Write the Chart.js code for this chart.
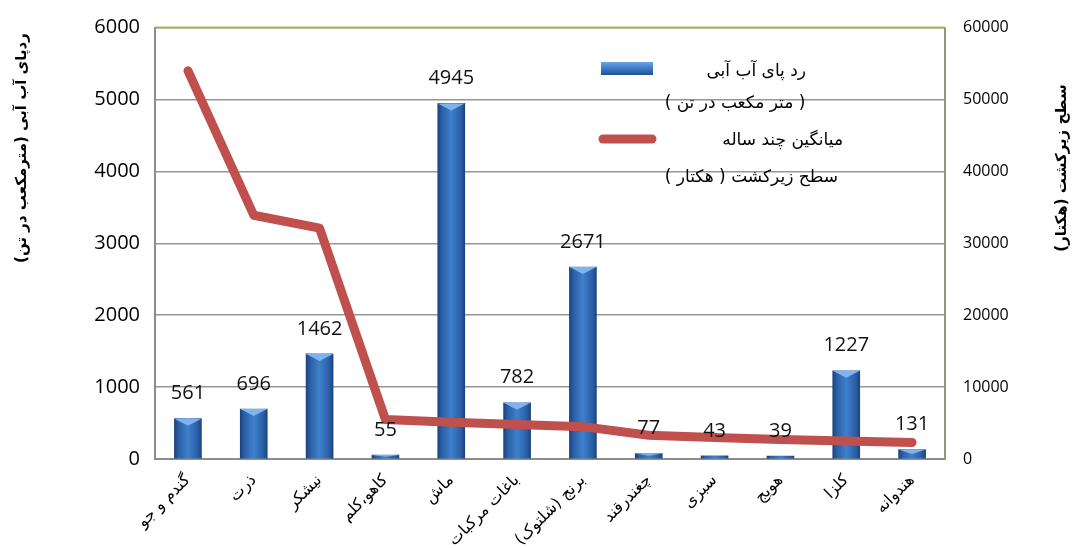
<!DOCTYPE html>
<html>
<head>
<meta charset="utf-8">
<script src="https://cdn.jsdelivr.net/npm/chart.js"></script>
<style>
  body { margin: 0; background: #fff; }
  #wrap { width: 1087px; height: 548px; }
</style>
</head>
<body>
<div id="wrap"><canvas id="chart" dir="rtl"></canvas></div>
<script>
// data
var crops = ['گندم و جو', 'ذرت', 'نیشکر', 'کاهو،کلم', 'ماش', 'باغات مرکبات', 'برنج (شلتوک)', 'چغندرقند', 'سبزی', 'هویج', 'کلزا', 'هندوانه'];
var waterFootprint = [561, 696, 1462, 55, 4945, 782, 2671, 77, 43, 39, 1227, 131];
var areaHa = [54000, 33900, 32100, 5500, 5100, 4800, 4500, 3300, 3000, 2700, 2500, 2300];
var leftTicks = [0, 1000, 2000, 3000, 4000, 5000, 6000];
var rightTicks = [0, 10000, 20000, 30000, 40000, 50000, 60000];
var barLabel = ['رد پای آب آبی', '( متر مکعب در تن )'];
var lineLabel = ['میانگین چند ساله', 'سطح زیرکشت ( هکتار )'];
var leftTitle = 'ردپای آب آبی (مترمکعب در تن)';
var rightTitle = 'سطح زیرکشت (هکتار)';

var numFont = "'Open Sans', 'DejaVu Sans', sans-serif";
var faFont = "'DejaVu Sans', sans-serif";
var barW = 27;

function barGradient(ctx, x, w) {
  let g = ctx.createLinearGradient(x - w / 2, 0, x + w / 2, 0);
  g.addColorStop(0, '#1b447c');
  g.addColorStop(0.15, '#2a5fa6');
  g.addColorStop(0.5, '#3f80cc');
  g.addColorStop(0.85, '#2a5fa6');
  g.addColorStop(1, '#1b447c');
  return g;
}

// bevel on top of every bar
let bevelPlugin = {
  id: 'bevel',
  afterDatasetDraw(chart, args) {
    if (args.index != 0) return;
    let ctx = chart.ctx;
    chart.getDatasetMeta(0).data.forEach(function (bar) {
      let h = bar.base - bar.y;
      if (h < 3) return;
      let d = Math.min(7, h / 2);
      let l = bar.x - barW / 2, r = bar.x + barW / 2;
      ctx.save();
      ctx.fillStyle = '#7fb3ee';
      ctx.beginPath();
      ctx.moveTo(l, bar.y);
      ctx.lineTo(r, bar.y);
      ctx.lineTo(bar.x, bar.y + d);
      ctx.closePath();
      ctx.fill();
      ctx.restore();
    });
  }
};

let labelPlugin = {
  id: 'valueLabels',
  afterDatasetsDraw(chart) {
    let ctx = chart.ctx;
    ctx.save();
    ctx.font = '20px ' + numFont;
    ctx.fillStyle = '#111';
    ctx.textAlign = 'center';
    ctx.textBaseline = 'middle';
    ctx.direction = 'ltr';
    chart.getDatasetMeta(0).data.forEach(function (bar, i) {
      ctx.fillText(String(waterFootprint[i]), bar.x, bar.y - 25);
    });
    ctx.restore();
  }
};

let framePlugin = {
  id: 'frame',
  afterDraw(chart) {
    let a = chart.chartArea, ctx = chart.ctx;
    ctx.save();
    ctx.lineWidth = 2;
    ctx.strokeStyle = '#9bbb59';
    ctx.beginPath();
    ctx.moveTo(a.left, a.top);
    ctx.lineTo(a.right, a.top);
    ctx.stroke();
    ctx.strokeStyle = '#8f9a7c';
    ctx.beginPath();
    ctx.moveTo(a.right, a.top);
    ctx.lineTo(a.right, a.bottom);
    ctx.stroke();

    // axis titles, both read bottom to top
    ctx.direction = 'rtl';
    ctx.fillStyle = '#000';
    ctx.textAlign = 'center';
    ctx.textBaseline = 'middle';
    ctx.font = 'bold 15px ' + faFont;
    ctx.save();
    ctx.translate(22, 148);
    ctx.rotate(-Math.PI / 2);
    ctx.fillText(leftTitle, 0, 0);
    ctx.restore();
    ctx.save();
    ctx.translate(1062, 168);
    ctx.rotate(-Math.PI / 2);
    ctx.fillText(rightTitle, 0, 0);
    ctx.restore();

    // legend
    ctx.font = '17px ' + faFont;
    let g = ctx.createLinearGradient(0, 62, 0, 76);
    g.addColorStop(0, '#6aa3e6');
    g.addColorStop(0.5, '#3a78c4');
    g.addColorStop(1, '#1d4a86');
    ctx.fillStyle = g;
    ctx.fillRect(601, 62, 52, 13);
    ctx.fillStyle = '#000';
    ctx.textAlign = 'right';
    ctx.fillText(barLabel[0], 806, 72);
    ctx.textAlign = 'center';
    ctx.fillText(barLabel[1], 735, 104);
    ctx.strokeStyle = '#c0504d';
    ctx.lineWidth = 9;
    ctx.lineCap = 'round';
    ctx.beginPath();
    ctx.moveTo(603, 139);
    ctx.lineTo(652, 139);
    ctx.stroke();
    ctx.textAlign = 'right';
    ctx.fillText(lineLabel[0], 843, 141);
    ctx.fillText(lineLabel[1], 838, 178);
    ctx.restore();
  }
};

let chart = new Chart(document.getElementById('chart'), {
  data: {
    labels: crops,
    datasets: [{
      type: 'bar',
      label: barLabel.join(' '),
      data: waterFootprint,
      yAxisID: 'y',
      order: 1,
      barThickness: barW,
      backgroundColor: function (c) {
        let x = c.chart.scales.x.getPixelForValue(c.dataIndex);
        if (isNaN(x)) return '#3a74bd';
        return barGradient(c.chart.ctx, x, barW);
      },
      borderWidth: 0
    }, {
      type: 'line',
      label: lineLabel.join(' '),
      data: areaHa,
      yAxisID: 'y1',
      order: 0,
      borderColor: '#c0504d',
      borderWidth: 9,
      borderCapStyle: 'round',
      borderJoinStyle: 'round',
      pointRadius: 0,
      tension: 0
    }]
  },
  options: {
    responsive: true,
    maintainAspectRatio: false,
    animation: false,
    layout: { padding: { top: 22, left: 0, right: 0, bottom: 0 } },
    plugins: { legend: { display: false }, tooltip: { enabled: false } },
    scales: {
      x: {
        grid: { display: false },
        border: { display: true, color: '#8c8c8c', width: 2 },
        afterFit: function (s) { s.height = 89; },
        ticks: {
          maxRotation: 45, minRotation: 45, autoSkip: false,
          color: '#000', padding: 4,
          font: { family: faFont, size: 16 }
        }
      },
      y: {
        position: 'left',
        min: 0, max: 6000,
        afterFit: function (s) { s.width = 155; },
        afterBuildTicks: function (s) { s.ticks = leftTicks.map(function (v) { return { value: v }; }); },
        grid: { color: '#969696', lineWidth: 1.5, drawTicks: false },
        border: { display: true, color: '#8c8c8c', width: 2 },
        ticks: {
          color: '#000', padding: 15, font: { family: numFont, size: 20 },
          callback: function (v) { return String(v); }
        }
      },
      y1: {
        position: 'right',
        min: 0, max: 60000,
        afterFit: function (s) { s.width = 142; },
        afterBuildTicks: function (s) { s.ticks = rightTicks.map(function (v) { return { value: v }; }); },
        grid: { display: false, drawTicks: false },
        border: { display: false },
        ticks: {
          color: '#000', padding: 18, font: { family: numFont, size: 16 },
          callback: function (v) { return String(v); }
        }
      }
    }
  },
  plugins: [bevelPlugin, labelPlugin, framePlugin]
});
</script>
</body>
</html>
